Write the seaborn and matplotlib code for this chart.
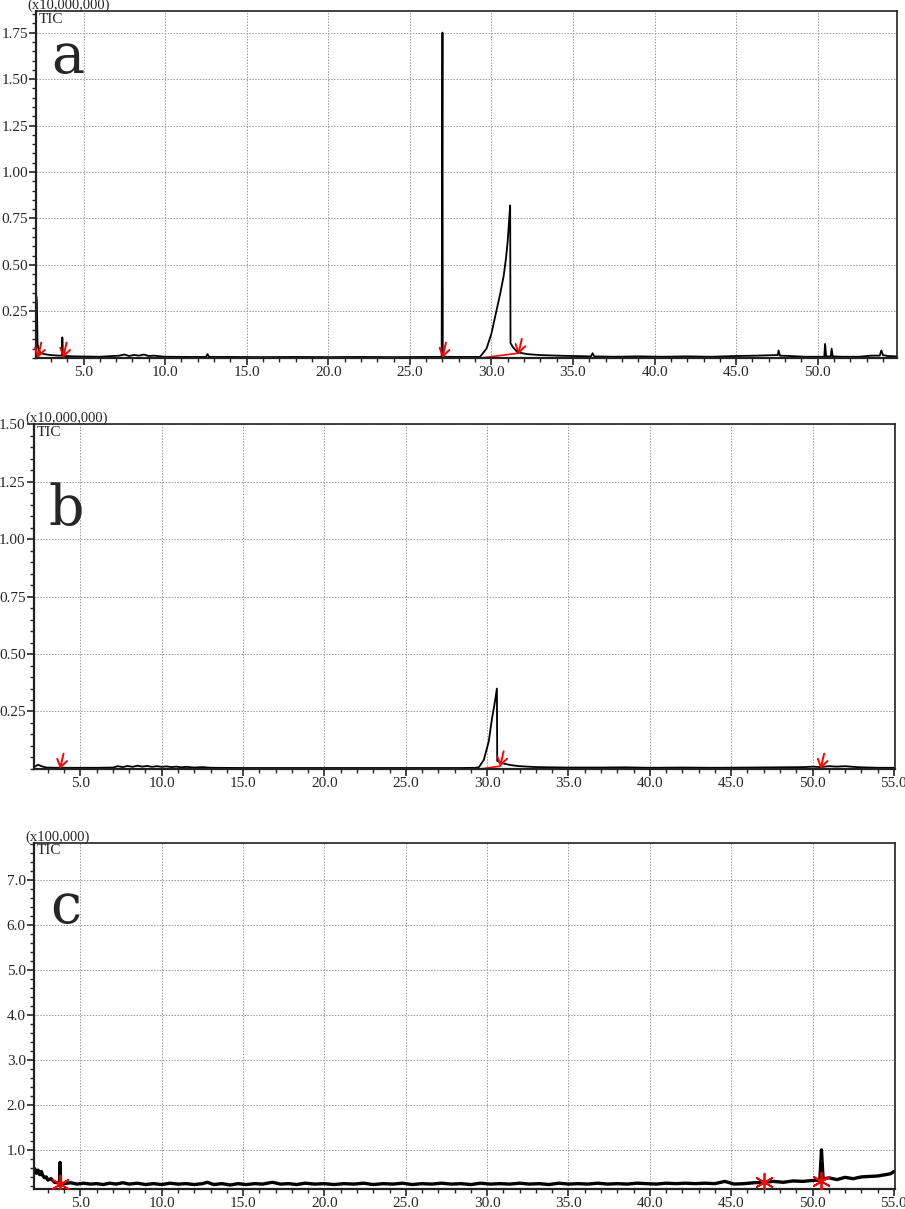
import numpy as np
import matplotlib
matplotlib.use("Agg")
import matplotlib.pyplot as plt
import seaborn as sns
from matplotlib.ticker import MultipleLocator, FixedLocator, FormatStrFormatter

sns.set_theme(style="ticks")
plt.rcParams['font.family'] = ['Liberation Serif', 'DejaVu Serif']

# ---- panel a : TIC (x10,000,000) ----
a_time = [2.12, 2.14, 2.18, 2.25, 2.4, 2.6, 3.0, 3.5, 3.68, 3.7, 3.74, 3.8, 4.5,
          6.0, 7.2, 7.5, 7.8, 8.1, 8.4, 8.7, 9.0, 9.3, 10.0, 11.5, 12.5, 12.6, 12.7, 14.0,
          16.0, 18.0, 20.0, 22.0, 24.0, 26.0, 26.95, 27.0, 27.02, 27.06, 28.0,
          29.3, 29.7, 30.0, 30.3, 30.55, 30.75, 30.9, 31.0, 31.1, 31.15, 31.17, 31.3, 31.6, 32.2,
          33.0, 34.0, 35.0, 36.1, 36.2, 36.3, 37.5, 39.0, 40.5, 42.0, 43.5, 45.0, 46.3, 47.0,
          47.55, 47.6, 47.68, 48.3, 49.2, 50.0, 50.4, 50.45, 50.52, 50.8, 50.85, 50.92, 51.5,
          52.5, 53.3, 53.8, 53.9, 54.0, 54.3, 54.8]
a_tic = [0.33, 0.30, 0.08, 0.04, 0.025, 0.02, 0.015, 0.012, 0.012, 0.11, 0.012, 0.01, 0.008,
         0.006, 0.012, 0.018, 0.01, 0.016, 0.012, 0.018, 0.01, 0.012, 0.006, 0.005, 0.005, 0.02, 0.005, 0.005,
         0.004, 0.005, 0.004, 0.005, 0.004, 0.005, 0.005, 1.75, 0.02, 0.006, 0.005,
         0.005, 0.05, 0.13, 0.25, 0.35, 0.44, 0.54, 0.63, 0.76, 0.82, 0.08, 0.06, 0.03, 0.02,
         0.015, 0.012, 0.01, 0.008, 0.025, 0.008, 0.006, 0.008, 0.006, 0.008, 0.006, 0.01, 0.012, 0.014,
         0.015, 0.04, 0.012, 0.01, 0.006, 0.006, 0.006, 0.075, 0.008, 0.008, 0.05, 0.008, 0.006,
         0.006, 0.012, 0.012, 0.04, 0.015, 0.01, 0.008]
a_marks = [2.2, 3.75, 27.0, 31.65]
a_marks_y = [0.0, 0.0, 0.0, 0.02]
a_base_t = [29.4, 31.65]
a_base_y = [0.0, 0.025]

# ---- panel b : TIC (x10,000,000) ----
b_time = [2.2, 2.4, 2.6, 2.9, 3.5, 4.5, 6.0, 7.0, 7.3, 7.6, 7.9, 8.2, 8.5, 8.8, 9.1, 9.4,
          9.7, 10.0, 10.3, 10.6, 10.9, 11.2, 11.5, 12.0, 12.5, 13.0, 15.0, 18.0, 21.0, 24.0,
          27.0, 28.5, 29.3, 29.5, 29.8, 30.1, 30.3, 30.45, 30.6, 30.62, 30.8, 31.1, 31.5,
          32.0, 32.5, 33.0, 34.0, 35.0, 37.0, 38.5, 40.0, 42.0, 44.0, 46.0, 48.0, 49.5,
          50.0, 50.5, 51.0, 51.5, 52.0, 52.5, 53.0, 54.0, 55.0]
b_tic = [0.01, 0.018, 0.012, 0.006, 0.005, 0.005, 0.005, 0.006, 0.012, 0.008, 0.013, 0.009, 0.014, 0.01, 0.013, 0.009,
         0.012, 0.009, 0.011, 0.008, 0.01, 0.007, 0.009, 0.006, 0.008, 0.005, 0.004, 0.004, 0.004, 0.004,
         0.004, 0.004, 0.005, 0.008, 0.04, 0.12, 0.22, 0.28, 0.35, 0.035, 0.028, 0.022, 0.016,
         0.012, 0.01, 0.008, 0.007, 0.006, 0.006, 0.007, 0.005, 0.006, 0.005, 0.006, 0.007, 0.008,
         0.01, 0.008, 0.012, 0.01, 0.012, 0.009, 0.007, 0.005, 0.005]
b_marks = [3.75, 30.8, 50.5]
b_marks_y = [0.0, 0.01, 0.0]
b_base_t = [29.6, 30.8]
b_base_y = [0.0, 0.012]

# ---- panel c : TIC (x100,000) ----
c_time = [2.2, 2.3, 2.4, 2.5, 2.6, 2.7, 2.8, 2.9, 3.0, 3.2, 3.4, 3.6, 3.72, 3.75, 3.78, 4.0,
          4.4, 4.8, 5.2, 5.6, 6.0, 6.4, 6.8, 7.2, 7.6, 8.0, 8.5, 9.0, 9.5, 10.0, 10.5, 11.0,
          11.5, 12.0, 12.5, 12.8, 13.2, 13.7, 14.2, 14.7, 15.2, 15.7, 16.2, 16.8, 17.3, 17.8,
          18.3, 18.8, 19.4, 20.0, 20.6, 21.2, 21.8, 22.4, 23.0, 23.6, 24.2, 24.8, 25.4, 26.0,
          26.6, 27.2, 27.8, 28.4, 29.0, 29.6, 30.2, 30.8, 31.4, 32.0, 32.6, 33.2, 33.8, 34.4,
          35.0, 35.6, 36.2, 36.8, 37.4, 38.0, 38.6, 39.2, 39.8, 40.4, 41.0, 41.6, 42.2, 42.8,
          43.4, 44.0, 44.6, 45.2, 45.8, 46.4, 47.0, 47.6, 48.2, 48.8, 49.4, 50.0, 50.45, 50.55,
          50.65, 51.0, 51.5, 52.0, 52.5, 53.0, 53.5, 54.0, 54.5, 54.8, 55.0]
c_tic = [0.58, 0.48, 0.55, 0.45, 0.52, 0.42, 0.38, 0.40, 0.33, 0.36, 0.28, 0.27, 0.25, 0.72, 0.26, 0.25,
         0.27, 0.24, 0.26, 0.24, 0.25, 0.23, 0.26, 0.24, 0.27, 0.24, 0.26, 0.23, 0.25, 0.23, 0.26, 0.24,
         0.25, 0.23, 0.25, 0.28, 0.23, 0.25, 0.22, 0.25, 0.23, 0.25, 0.24, 0.28, 0.24, 0.25,
         0.23, 0.26, 0.24, 0.25, 0.23, 0.25, 0.24, 0.26, 0.23, 0.25, 0.24, 0.26, 0.23, 0.25,
         0.24, 0.26, 0.24, 0.25, 0.23, 0.26, 0.24, 0.25, 0.24, 0.26, 0.24, 0.25, 0.23, 0.26,
         0.24, 0.25, 0.24, 0.26, 0.24, 0.25, 0.24, 0.26, 0.25, 0.24, 0.26, 0.25, 0.26, 0.25,
         0.26, 0.25, 0.30, 0.24, 0.25, 0.27, 0.28, 0.30, 0.28, 0.31, 0.30, 0.32, 0.33, 1.00,
         0.35, 0.38, 0.34, 0.39, 0.36, 0.40, 0.41, 0.42, 0.45, 0.47, 0.52]
c_marks = [3.75, 47.0, 50.5]
c_marks_y = [0.25, 0.28, 0.30]

a_yticks = [0.25, 0.50, 0.75, 1.00, 1.25, 1.50, 1.75]
b_yticks = [0.25, 0.50, 0.75, 1.00, 1.25, 1.50]
c_yticks = [1.0, 2.0, 3.0, 4.0, 5.0, 6.0, 7.0]


def setup_axis(ax, xlim, ylim, yticks, yminor, yfmt, scale_label, letter, letter_y):
    ax.set_xlim(*xlim)
    ax.set_ylim(*ylim)
    ax.xaxis.set_major_locator(MultipleLocator(5))
    ax.xaxis.set_minor_locator(MultipleLocator(1))
    ax.xaxis.set_major_formatter(FormatStrFormatter('%.1f'))
    ax.yaxis.set_major_locator(FixedLocator(yticks))
    ax.yaxis.set_minor_locator(MultipleLocator(yminor))
    ax.yaxis.set_major_formatter(FormatStrFormatter(yfmt))
    ax.grid(True, which='major', color='#9a9a9a', linestyle=(0, (1.5, 1.5)), linewidth=0.7)
    ax.tick_params(which='major', direction='out', length=5, width=1.2, labelsize=11, pad=1)
    ax.tick_params(which='minor', direction='out', length=3, width=1.0)
    for s in ax.spines.values():
        s.set_visible(True)
        s.set_color('#222222')
        s.set_linewidth(1.2)
    ax.spines['left'].set_linewidth(1.6)
    ax.spines['bottom'].set_linewidth(1.6)
    ax.set_xlabel('')
    ax.set_ylabel('')
    ax.text(-0.01, 1.006, scale_label, transform=ax.transAxes, ha='left', va='baseline', fontsize=10.5)
    ax.text(0.003, 0.995, 'TIC', transform=ax.transAxes, ha='left', va='top', fontsize=11)
    ax.text(0.037, letter_y, letter, transform=ax.transAxes, ha='center', va='baseline',
            fontsize=40, family=['DejaVu Serif'])


def arrows(ax, xs, ys):
    for x, y in zip(xs, ys):
        ax.annotate('', xy=(x, y), xytext=(2.5, 11), textcoords='offset points',
                    arrowprops=dict(arrowstyle='->,head_length=0.45,head_width=0.3',
                                    color='red', lw=1.4, shrinkA=0, shrinkB=0))


fig = plt.figure(figsize=(9.05, 12.09), dpi=100)

ax_a = fig.add_axes([0.040, 0.704, 0.951, 0.287])
sns.lineplot(x=a_time, y=a_tic, ax=ax_a, color='black', lw=1.3, estimator=None, sort=False)
ax_a.plot(a_base_t, a_base_y, color='red', lw=1.2)
arrows(ax_a, a_marks, a_marks_y)
setup_axis(ax_a, (2.1, 54.85), (0.0, 1.867), a_yticks, 0.05, '%.2f', '(x10,000,000)', 'a', 0.821)

ax_b = fig.add_axes([0.0376, 0.364, 0.951, 0.285])
sns.lineplot(x=b_time, y=b_tic, ax=ax_b, color='black', lw=1.3, estimator=None, sort=False)
ax_b.plot(b_base_t, b_base_y, color='red', lw=1.2)
arrows(ax_b, b_marks, b_marks_y)
setup_axis(ax_b, (2.15, 55.05), (0.0, 1.50), b_yticks, 0.05, '%.2f', '(x10,000,000)', 'b', 0.707)

ax_c = fig.add_axes([0.0376, 0.0165, 0.951, 0.2865])
sns.lineplot(x=c_time, y=c_tic, ax=ax_c, color='black', lw=2.4, estimator=None, sort=False)
sns.scatterplot(x=c_marks, y=c_marks_y, ax=ax_c, marker=(6, 2, 0), s=160, color='red',
                linewidth=1.3, edgecolor='red', zorder=5)
setup_axis(ax_c, (2.15, 55.05), (0.13, 7.82), c_yticks, 0.2, '%.1f', '(x100,000)', 'c', 0.769)

fig.savefig('out.png', dpi=100)
